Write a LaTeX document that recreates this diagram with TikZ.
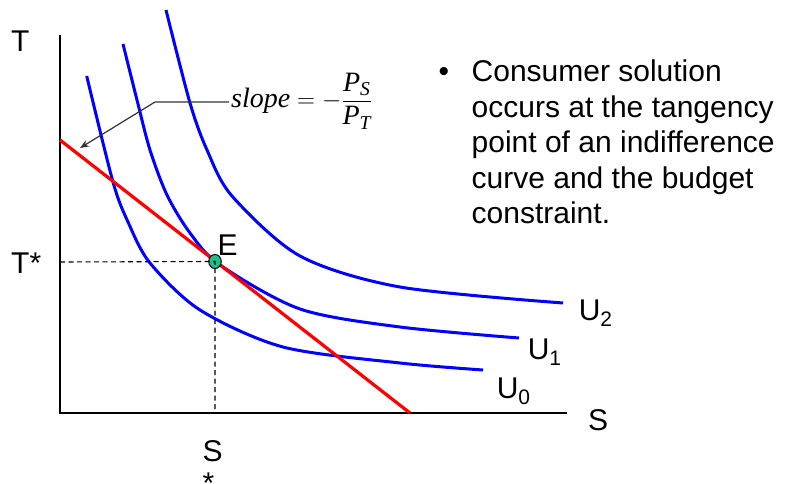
\documentclass[tikz,border=0pt]{standalone}
\usepackage{amsmath}
\usepackage{fontspec}
\setmainfont{Liberation Sans}
\newfontfamily\timesfam{Liberation Serif}
\newcommand{\tmi}[1]{\text{\timesfam\itshape #1}}
\usetikzlibrary{arrows.meta,shapes.geometric}
\definecolor{icblue}{RGB}{0,0,255}
\definecolor{bred}{RGB}{255,0,0}
\definecolor{dotgreen}{RGB}{30,190,140}
\definecolor{leader}{RGB}{50,50,50}
\begin{document}
\begin{tikzpicture}[x=1pt,y=-1pt,
  lbl/.style={anchor=base west,inner sep=0pt,font=\fontsize{30}{36}\selectfont},
  ic/.style={draw=icblue,line width=3pt,line cap=butt},
  budget/.style={draw=bred,line width=3.2pt},
  axis/.style={draw=black,line width=2.2pt},
  guide/.style={draw=black,line width=1.1pt,dash pattern=on 5pt off 3.5pt}]
\useasboundingbox (0,0) rectangle (787,484);
% axes
\coordinate (o) at (60,413);
\coordinate (ytop) at (60,35);
\coordinate (xend) at (567,413);
\draw[axis] (ytop) -- (o) -- (xend);
% indifference curves
\draw[ic] plot[smooth,tension=0.5] coordinates {(86.7,76) (113,182) (128,222) (150,263) (200,310) (283,347) (400,363) (483,370)};
\draw[ic] plot[smooth,tension=0.5] coordinates {(123,44) (137,100) (150,150) (167,195) (190,233) (220,265) (300,309) (400,327) (519,338)};
\draw[ic] plot[smooth,tension=0.5] coordinates {(166,10) (190,103) (207,150) (232,196) (300,256) (400,287) (563,303)};
% budget line
\coordinate (b1) at (60,140);
\coordinate (b2) at (410,413);
\draw[budget] (b1) -- (b2);
% equilibrium point
\node (E) [ellipse,minimum width=12.5pt,minimum height=14pt,inner sep=0pt,draw=black,line width=1pt,fill=dotgreen] at (215,261.5) {};
\coordinate (tstar) at (60,262);
\coordinate (sstar) at (215,413);
\draw[guide] (tstar) -- (E.center) -- (sstar);
% slope annotation
\node (sl) [anchor=west,inner sep=2pt] at (229,101) {\fontsize{28}{33}\selectfont$\displaystyle \tmi{slope}=-\frac{\tmi{P}_{\tmi{S}}}{\tmi{P}_{\tmi{T}}}$};
\coordinate (bend) at (155,102);
\coordinate (tip) at (80,148);
\draw[leader,line width=1.2pt,-{Stealth[length=9pt,width=7pt]}] (sl.west |- bend) -- (bend) -- (tip);
% labels
\node (lT) [lbl] at (11,52) {T};
\node (lTs) [lbl] at (11,273) {T*};
\node (lE) [lbl] at (217.5,255) {E};
\node (lS) [lbl] at (588,430) {S};
\node (lU2) [lbl] at (578.6,320) {U\raisebox{-6pt}{\fontsize{21}{21}\selectfont 2}};
\node (lU1) [lbl] at (527.6,359) {U\raisebox{-6pt}{\fontsize{21}{21}\selectfont 1}};
\node (lU0) [lbl] at (496.6,398) {U\raisebox{-6pt}{\fontsize{21}{21}\selectfont 0}};
\node (lSs) [lbl] at (202.5,461) {\fontsize{30}{32}\selectfont\begin{tabular}[t]{@{}l@{}}S\\{*}\end{tabular}};
% bullet text
\node (bul) [lbl] at (438.5,81.7) {•};
\node (txt) [lbl] at (471.5,81.7) {\fontsize{30}{35.5}\selectfont\begin{tabular}[t]{@{}l@{}}Consumer solution\\occurs at the tangency\\point of an indifference\\curve and the budget\\constraint.\end{tabular}};
\end{tikzpicture}
\end{document}
